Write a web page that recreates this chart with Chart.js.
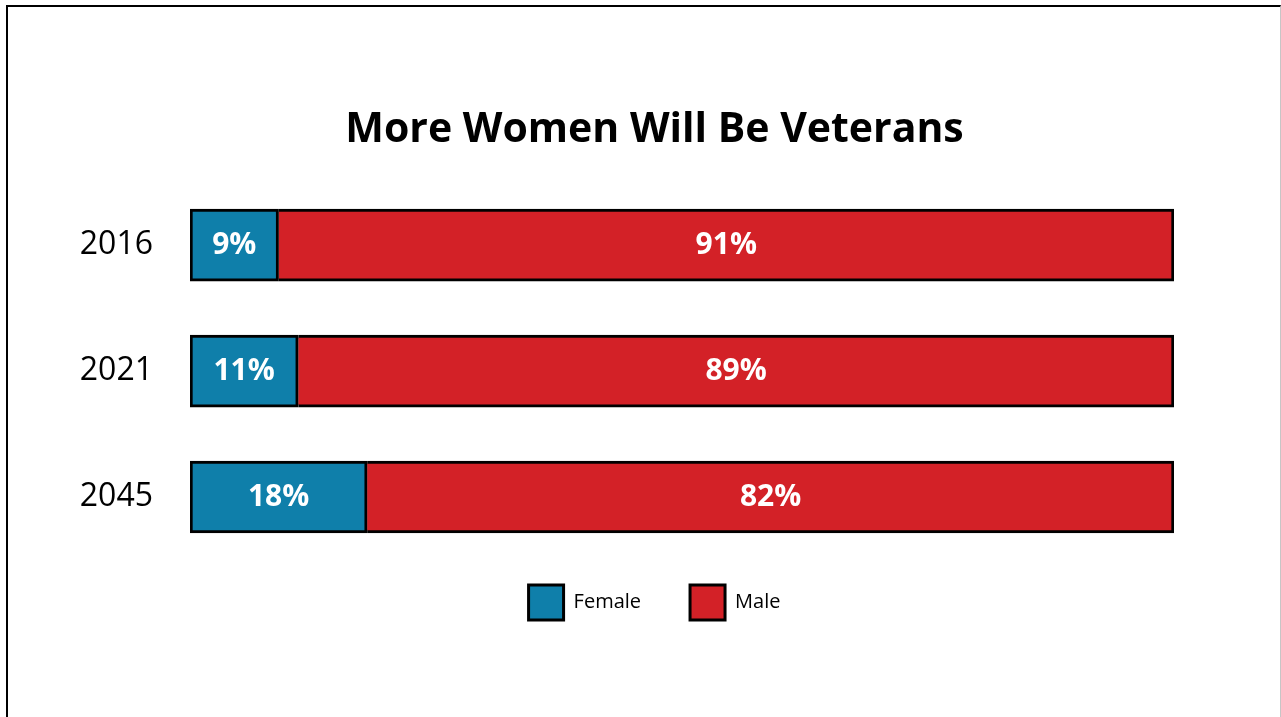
<!DOCTYPE html>
<html lang="en">
<head>
<meta charset="UTF-8">
<title>More Women Will Be Veterans</title>
<script src="https://cdn.jsdelivr.net/npm/chart.js"></script>
<style>
    html, body { margin: 0; padding: 0; overflow: hidden; background: #fff; }
    .frame {
        position: absolute;
        left: 6px;
        top: 5px;
        width: 1272px;
        height: 760px;
        border-left: 2px solid #000;
        border-top: 2px solid #000;
        border-right: 1px solid #c6c6c6;
    }
    #chart { position: absolute; left: 0; top: 0; }
</style>
</head>
<body>
<div class="frame"></div>
<canvas id="chart" width="1281" height="717"></canvas>
<script>
    // Share of veterans by sex
    const years = ['2016', '2021', '2045'];
    const female = [9, 11, 18];
    const male = [91, 89, 82];

    const BLUE = '#0f7faa';
    const RED = '#d32127';

    // white percentage text in the middle of every bar piece
    const barLabels = {
        id: 'barLabels',
        afterDatasetsDraw(chart) {
            const ctx = chart.ctx;
            ctx.save();
            ctx.fillStyle = '#fff';
            ctx.font = 'bold 30px "Open Sans"';
            ctx.textAlign = 'center';
            ctx.textBaseline = 'middle';
            chart.data.datasets.forEach((ds, i) => {
                chart.getDatasetMeta(i).data.forEach((bar, j) => {
                    const p = bar.getCenterPoint();
                    ctx.fillText(ds.data[j] + '%', p.x, p.y);
                });
            });
            ctx.restore();
        }
    };

    new Chart(document.getElementById('chart'), {
        type: 'bar',
        data: {
            labels: years,
            datasets: [
                {
                    label: 'Female',
                    data: female,
                    backgroundColor: BLUE,
                    borderColor: '#000',
                    borderWidth: 3,
                    borderSkipped: false,
                    barThickness: 72
                },
                {
                    label: 'Male',
                    data: male,
                    backgroundColor: RED,
                    borderColor: '#000',
                    borderWidth: 3,
                    borderSkipped: 'start',
                    barThickness: 72
                }
            ]
        },
        options: {
            indexAxis: 'y',
            responsive: false,
            animation: false,
            layout: { padding: { left: 28, right: 0, top: 0, bottom: 63 } },
            scales: {
                x: {
                    stacked: true,
                    min: 0,
                    max: 100,
                    grid: { display: false },
                    border: { display: false },
                    ticks: { display: false },
                    afterFit: (scale) => { scale.height = -24; }
                },
                y: {
                    stacked: true,
                    grid: { display: false, drawTicks: false },
                    border: { display: false },
                    ticks: {
                        padding: 37,
                        color: '#000',
                        font: { family: 'Open Sans', size: 32 }
                    },
                    afterFit: (scale) => { scale.width = 162; }
                },
                // empty space on the right of the bars
                yRight: {
                    type: 'category',
                    position: 'right',
                    grid: { display: false, drawTicks: false },
                    border: { display: false },
                    ticks: { display: false },
                    afterFit: (scale) => { scale.width = 107; }
                }
            },
            plugins: {
                title: {
                    display: true,
                    text: 'More Women Will Be Veterans',
                    color: '#000',
                    font: { family: 'Open Sans', size: 41, weight: 'bold' },
                    padding: { top: 106, bottom: 27 }
                },
                legend: {
                    position: 'bottom',
                    labels: {
                        boxWidth: 35,
                        boxHeight: 35,
                        padding: 49,
                        color: '#000',
                        font: { family: 'Open Sans', size: 20 }
                    }
                },
                tooltip: { enabled: false }
            }
        },
        plugins: [barLabels]
    });
</script>
</body>
</html>
